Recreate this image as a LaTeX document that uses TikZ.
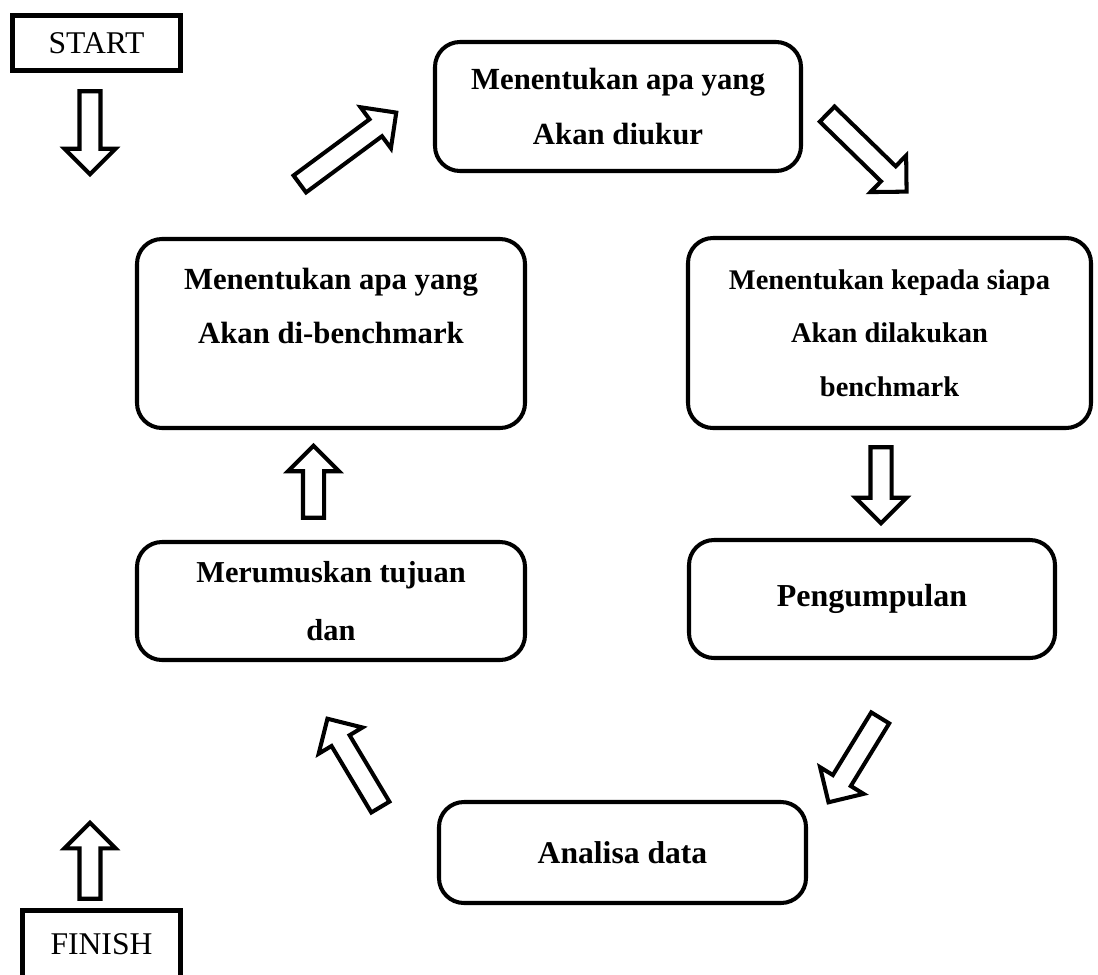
\documentclass[tikz,border=0pt]{standalone}
\usepackage{fontspec}
\setmainfont{Liberation Serif}
\usetikzlibrary{shapes.arrows}

\begin{document}
\begin{tikzpicture}[x=0.02cm, y=-0.02cm,
  stage/.style={draw, line width=2.3pt, rounded corners=0.5cm, align=center, inner sep=0pt,
    font=\bfseries\fontsize{17.5}{31}\selectfont},
  endbox/.style={draw, line width=2.8pt, inner sep=0pt, font=\fontsize{18}{21}\selectfont},
  blockarrow/.style={draw, line width=2.3pt, single arrow, single arrow head extend=0.3cm,
    inner xsep=0pt, inner ysep=0.17cm}]

\def \px {0.02cm}

\useasboundingbox (0,0) rectangle (1098,974);

% start and finish
\node (start) [endbox, minimum width=168*\px, minimum height=55*\px] at (96.5,43) {START};
\node (finish) [endbox, minimum width=158*\px, minimum height=67*\px] at (101.5,944) {FINISH};

% the cycle
\node (ukur) [stage, minimum width=366*\px, minimum height=129*\px] at (618,106.5)
  {Menentukan apa yang\\Akan diukur};
\node (siapa) [stage, minimum width=403*\px, minimum height=190*\px, font=\bfseries\fontsize{16.2}{30.5}\selectfont]
  at (889.5,333) {Menentukan kepada siapa\\Akan dilakukan\\benchmark};
\node (kumpul) [stage, minimum width=366*\px, minimum height=118*\px, font=\bfseries\fontsize{18.2}{22}\selectfont]
  at (872,599) {Pengumpulan};
\node (analisa) [stage, minimum width=367*\px, minimum height=101*\px, font=\bfseries\fontsize{18}{22}\selectfont]
  at (622.5,852.5) {Analisa data};
\node (tujuan) [stage, minimum width=388*\px, minimum height=118*\px, font=\bfseries\fontsize{17.3}{33}\selectfont]
  at (331,601) {Merumuskan tujuan\\dan};
\node (bench) [stage, minimum width=388*\px, minimum height=189*\px, text depth=1.1cm,
  font=\bfseries\fontsize{17.5}{30.5}\selectfont]
  at (331,333.5) {Menentukan apa yang\\Akan di-benchmark};

% block arrows: x / y / angle / length
\foreach \x/\y/\a/\l [count=\i] in {90/127.5/-90/83, 343.8/151.4/36.5/120, 863.1/149.2/-44.3/111,
  881/480/-90/76, 857.1/755.6/-121.5/99, 356.6/767.4/120.9/103, 313.5/487/90/72, 90/866/90/76}
{
  \node (arr\i) [blockarrow, minimum height=\l*\px, rotate=\a] at (\x,\y) {};
}

\end{tikzpicture}
\end{document}
